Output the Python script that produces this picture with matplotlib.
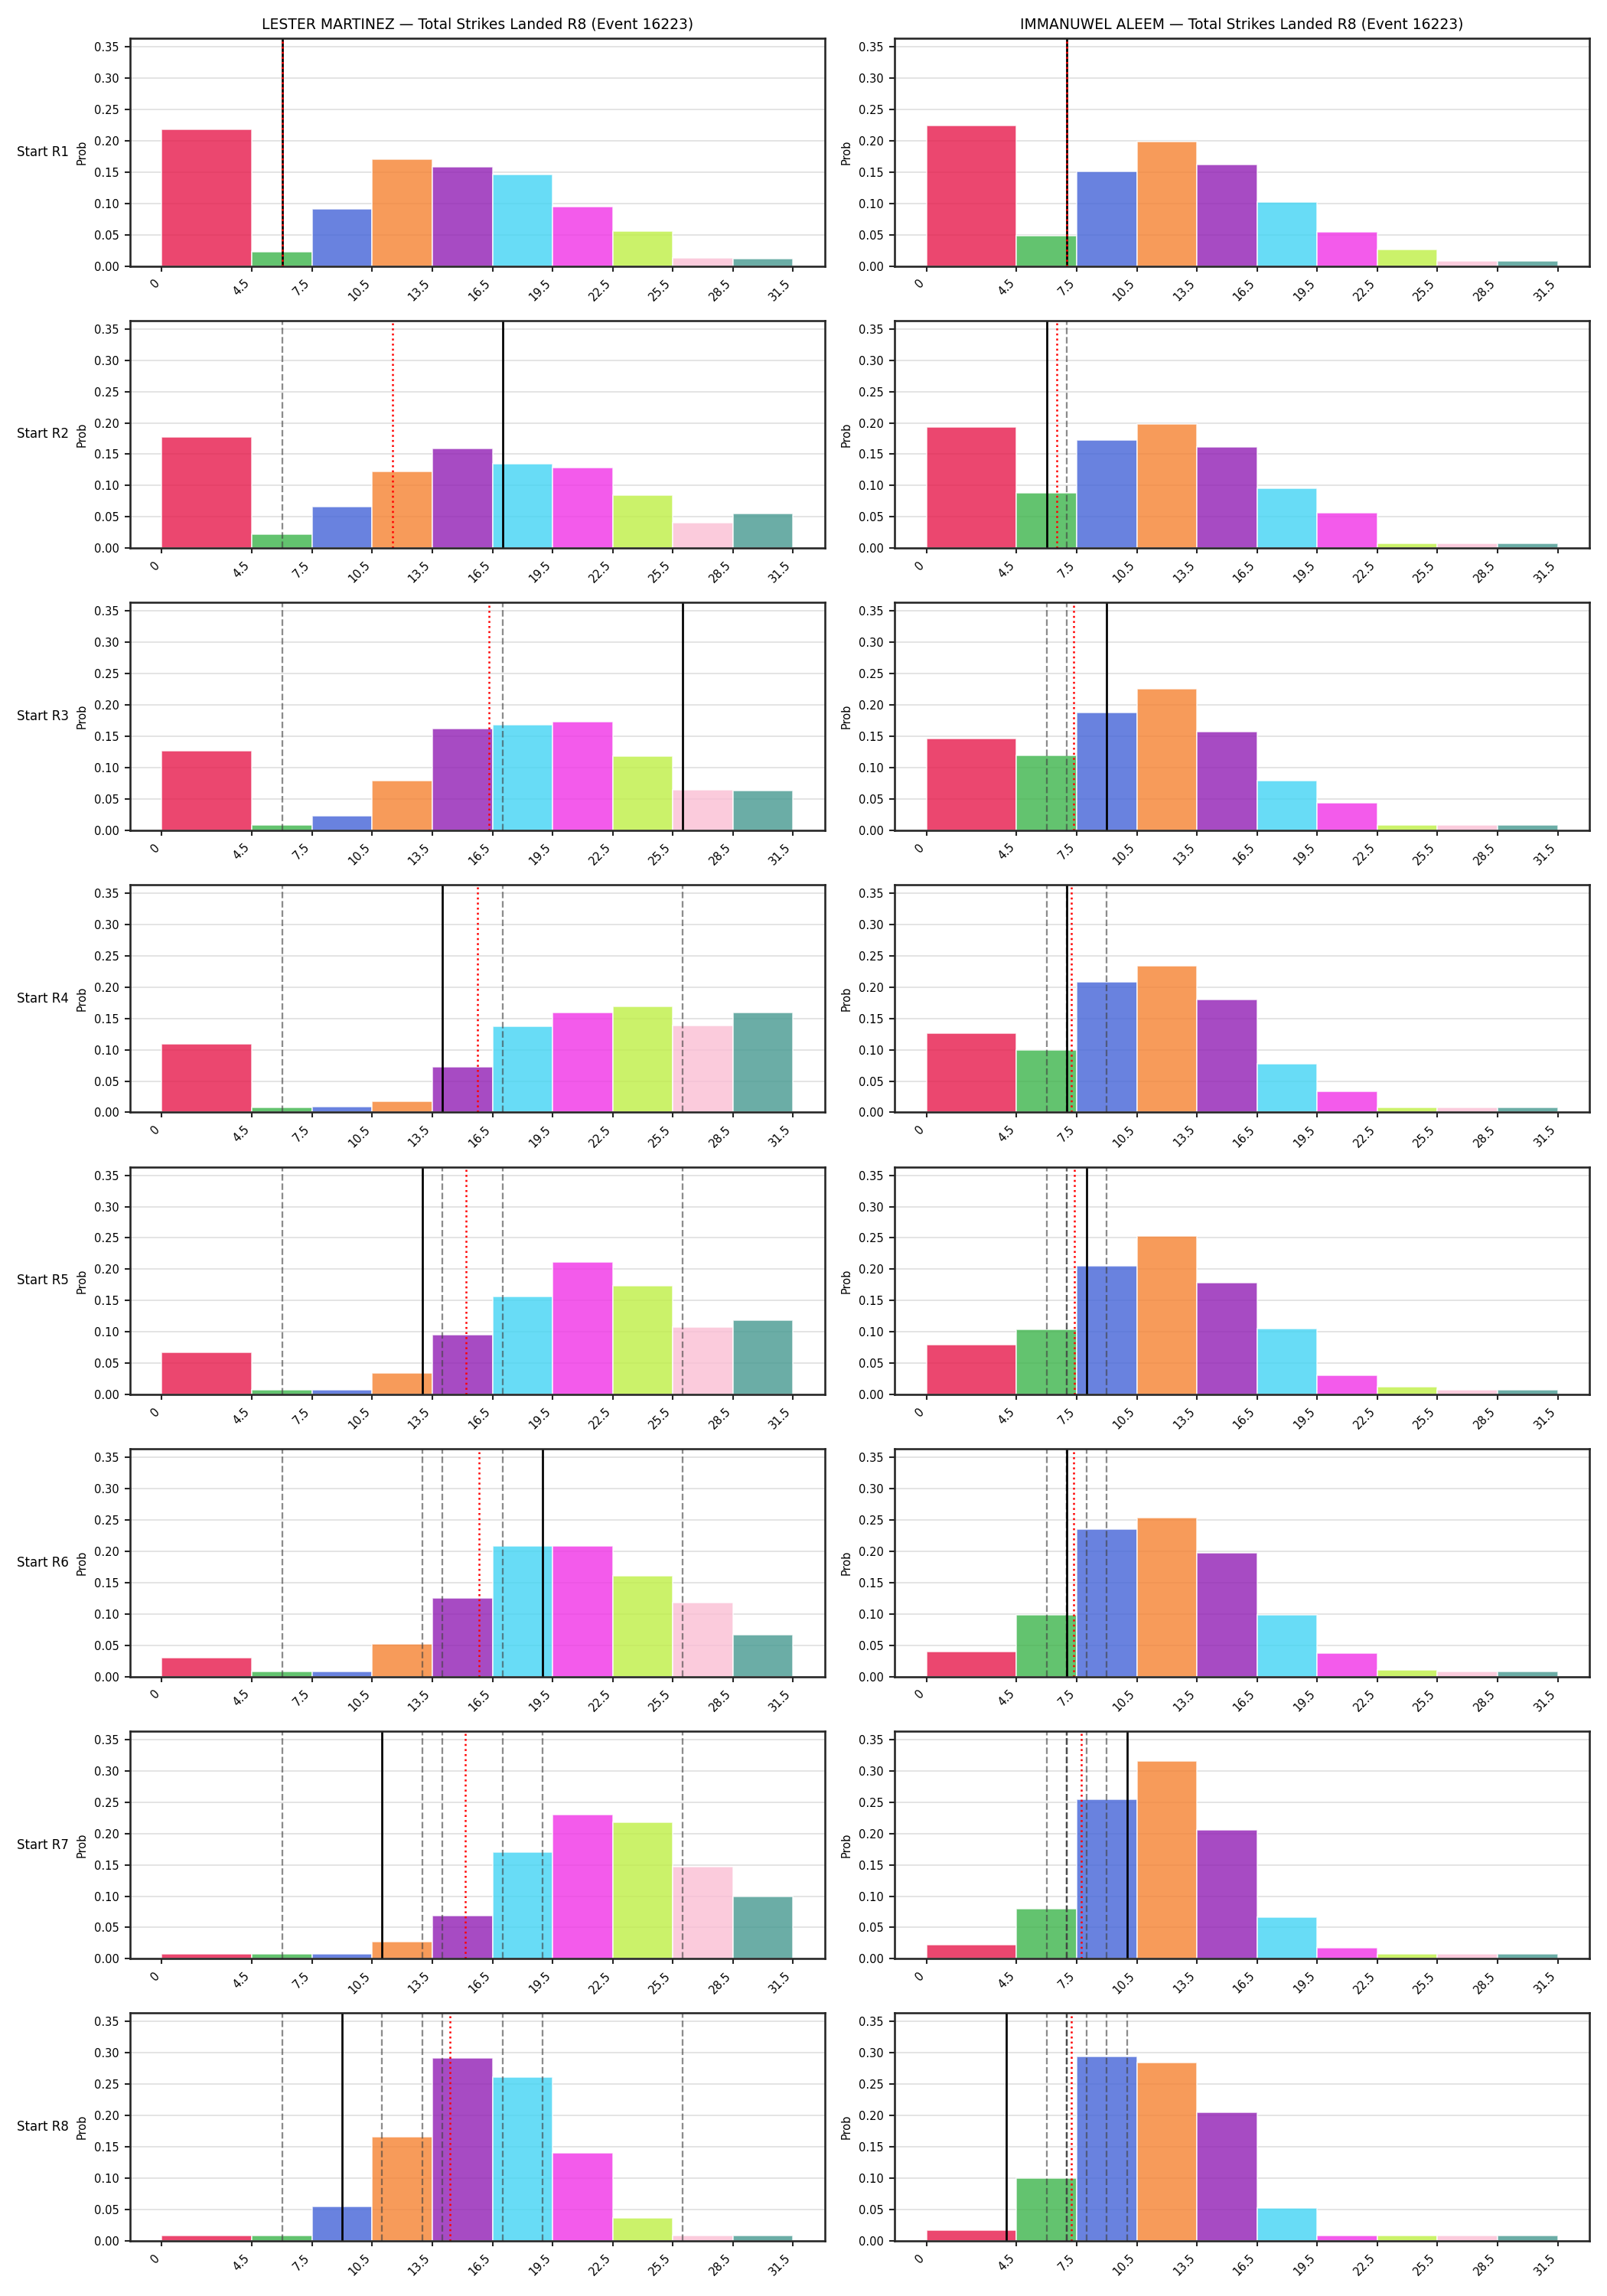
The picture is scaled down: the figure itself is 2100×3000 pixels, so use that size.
import numpy as np
import matplotlib
matplotlib.use("Agg")
import matplotlib.pyplot as plt
from matplotlib.ticker import MultipleLocator

# bins of total strikes landed (first bin is wider)
edges = [0, 4.5, 7.5, 10.5, 13.5, 16.5, 19.5, 22.5, 25.5, 28.5, 31.5]
edge_labels = ["0", "4.5", "7.5", "10.5", "13.5", "16.5", "19.5", "22.5", "25.5", "28.5", "31.5"]
rounds = ["R1", "R2", "R3", "R4", "R5", "R6", "R7", "R8"]

fighter_a = "LESTER MARTINEZ"
fighter_b = "IMMANUWEL ALEEM"
title_tail = " \u2014 Total Strikes Landed R8 (Event 16223)"

# probability per bin, one list per starting round
martinez_probs = [
    [0.218, 0.023, 0.091, 0.171, 0.158, 0.146, 0.095, 0.056, 0.013, 0.012],
    [0.177, 0.022, 0.066, 0.122, 0.159, 0.135, 0.128, 0.084, 0.041, 0.055],
    [0.127, 0.008, 0.023, 0.079, 0.162, 0.168, 0.173, 0.118, 0.064, 0.063],
    [0.109, 0.008, 0.009, 0.018, 0.073, 0.137, 0.160, 0.169, 0.139, 0.160],
    [0.067, 0.008, 0.008, 0.034, 0.095, 0.157, 0.212, 0.173, 0.108, 0.119],
    [0.030, 0.008, 0.008, 0.052, 0.126, 0.209, 0.209, 0.161, 0.118, 0.067],
    [0.008, 0.008, 0.008, 0.027, 0.069, 0.170, 0.230, 0.218, 0.147, 0.099],
    [0.008, 0.008, 0.055, 0.166, 0.292, 0.261, 0.140, 0.037, 0.008, 0.008],
]
aleem_probs = [
    [0.224, 0.049, 0.151, 0.199, 0.162, 0.102, 0.055, 0.027, 0.008, 0.008],
    [0.193, 0.088, 0.172, 0.198, 0.162, 0.095, 0.057, 0.008, 0.008, 0.008],
    [0.146, 0.119, 0.188, 0.226, 0.158, 0.079, 0.044, 0.008, 0.008, 0.008],
    [0.127, 0.099, 0.208, 0.234, 0.180, 0.078, 0.034, 0.008, 0.008, 0.008],
    [0.079, 0.104, 0.205, 0.253, 0.179, 0.105, 0.031, 0.012, 0.008, 0.008],
    [0.040, 0.099, 0.236, 0.254, 0.197, 0.099, 0.038, 0.011, 0.008, 0.008],
    [0.022, 0.080, 0.255, 0.316, 0.206, 0.066, 0.017, 0.008, 0.008, 0.008],
    [0.017, 0.100, 0.294, 0.284, 0.205, 0.052, 0.008, 0.008, 0.008, 0.008],
]

# observed strikes per round (black line), earlier rounds dashed, running mean dotted
martinez_rounds = [6, 17, 26, 14, 13, 19, 11, 9]
aleem_rounds = [7, 6, 9, 7, 8, 7, 10, 4]

colors = ["#e6194B", "#3cb44b", "#4363d8", "#f58231", "#911eb4",
          "#42d4f4", "#f032e6", "#bfef45", "#fabed4", "#469990"]

fig, axes = plt.subplots(8, 2, figsize=(14, 20), dpi=150)
fig.subplots_adjust(left=0.081, right=0.989, top=0.9833, bottom=0.024,
                    wspace=0.101, hspace=0.239)

ymax = 1.15 * max(max(max(p) for p in martinez_probs), max(max(p) for p in aleem_probs))
widths = np.diff(edges)

panels = [(fighter_a, martinez_probs, martinez_rounds),
          (fighter_b, aleem_probs, aleem_rounds)]

for col, (name, probs, obs) in enumerate(panels):
    for r in range(len(rounds)):
        ax = axes[r, col]
        ax.set_axisbelow(True)
        ax.grid(axis="y", color="#e3e3e3", lw=0.9)
        ax.bar(edges[:-1], probs[r], width=widths, align="edge", color=colors,
               alpha=0.8, edgecolor="white", linewidth=0.8)
        for v in obs[:r]:
            ax.axvline(v, color="0.25", ls="--", lw=1.1, alpha=0.6)
        ax.axvline(obs[r], color="black", lw=1.3)
        ax.axvline(np.mean(obs[:r + 1]), color="red", ls=":", lw=1.2)

        ax.set_ylim(0, ymax)
        ax.yaxis.set_major_locator(MultipleLocator(0.05))
        ax.set_xticks(edges)
        ax.set_xticklabels(edge_labels, rotation=45, ha="right")
        ax.tick_params(labelsize=7, color="#262626", width=1.0)
        for s in ax.spines.values():
            s.set_color("#262626")
            s.set_linewidth(1.25)
        ax.set_ylabel("Prob", fontsize=7)
        if col == 0:
            ax.text(-0.088, 0.5, "Start " + rounds[r], transform=ax.transAxes,
                    ha="right", va="center", fontsize=8)
        if r == 0:
            ax.set_title(name + title_tail, fontsize=9)

fig.savefig("out.png", dpi=150)
